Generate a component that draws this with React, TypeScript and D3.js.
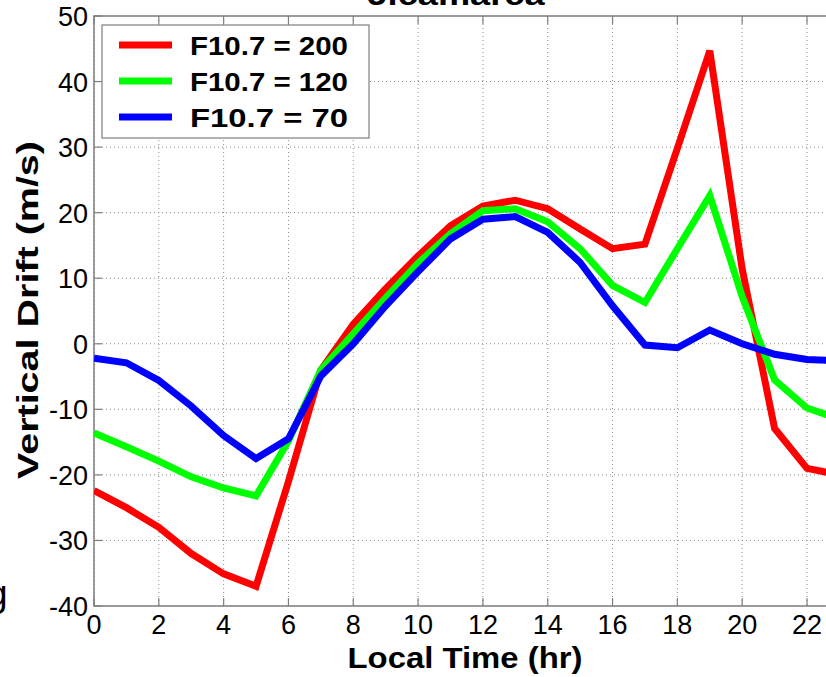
import React from "react";
import * as d3 from "d3";

const hours = [0,1,2,3,4,5,6,7,8,9,10,11,12,13,14,15,16,17,18,19,20,21,22,23];
const f200 = [-22.4,-25,-28,-32,-35.1,-37,-21,-4,3,8.4,13.4,18,21,21.9,20.6,17.5,14.5,15.2,29.8,44.7,11.4,-12.9,-19,-20];
const f120 = [-13.6,-15.7,-17.9,-20.3,-22,-23.2,-14.8,-4,1.5,7,12.3,16.8,20.3,20.6,18.6,14.5,8.9,6.3,14.5,22.6,7.2,-5.5,-9.8,-11.5];
const f70 = [-2.2,-2.9,-5.6,-9.5,-14,-17.5,-14.5,-4.9,0,5.8,11,16,19,19.4,17,12.4,5.8,-0.2,-0.6,2.1,0,-1.6,-2.4,-2.6];
const seriesNames = ["F10.7 = 200", "F10.7 = 120", "F10.7 = 70"];
const seriesColors = ["#ff0000", "#00ff00", "#0000ff"];
const xTicks = [0,2,4,6,8,10,12,14,16,18,20,22,24];
const yTicks = [-40,-30,-20,-10,0,10,20,30,40,50];

export default function App() {
  const W = 826, H = 677;
  const left = 94, top = 16, bottom = 606;
  const x = d3.scaleLinear().domain([0, 24]).range([left, left + 24 * (713 / 22)]);
  const y = d3.scaleLinear().domain([-40, 50]).range([bottom, top]);
  const right = x(24);
  const line = d3.line<number>().x((_, i) => x(hours[i])).y((v) => y(v));
  const all = [f200, f120, f70];
  const font = "'Liberation Sans', Arial, sans-serif";
  const axisColor = "#7f7f7f";
  return (
    <svg width={W} height={H} style={{ position: "absolute", left: 0, top: 0, background: "#fff" }} fontFamily={font}>
      <defs>
        <clipPath id="plot"><rect x={left} y={top} width={right - left} height={bottom - top} /></clipPath>
      </defs>
      <text x={456} y={5} textAnchor="middle" fontSize={30} fontWeight="bold" textLength={177} lengthAdjust="spacingAndGlyphs">Jicamarca</text>
      <text x={-13} y={606} fontSize={37}>g</text>
      {/* grid */}
      {xTicks.map((t) => (
        <line key={"gx" + t} x1={x(t)} x2={x(t)} y1={top} y2={bottom} stroke="#8a8a8a" strokeWidth={1} strokeDasharray="1,3" />
      ))}
      {yTicks.map((t) => (
        <line key={"gy" + t} x1={left} x2={right} y1={y(t)} y2={y(t)} stroke="#8a8a8a" strokeWidth={1} strokeDasharray="1,3" />
      ))}
      {/* axes box */}
      <rect x={left} y={top} width={right - left} height={bottom - top} fill="none" stroke={axisColor} strokeWidth={1.5} />
      {xTicks.map((t) => (
        <g key={"tx" + t}>
          <line x1={x(t)} x2={x(t)} y1={bottom} y2={bottom - 8} stroke={axisColor} strokeWidth={1.2} />
          <line x1={x(t)} x2={x(t)} y1={top} y2={top + 8} stroke={axisColor} strokeWidth={1.2} />
          {x(t) < W ? <text x={x(t)} y={bottom + 28} textAnchor="middle" fontSize={27}>{t}</text> : null}
        </g>
      ))}
      {yTicks.map((t) => (
        <g key={"ty" + t}>
          <line x1={left} x2={left + 8} y1={y(t)} y2={y(t)} stroke={axisColor} strokeWidth={1.2} />
          <text x={left - 6} y={y(t) + 10} textAnchor="end" fontSize={27}>{t}</text>
        </g>
      ))}
      {/* series */}
      <g clipPath="url(#plot)">
        {all.map((s, i) => (
          <path key={"s" + i} d={line(s) || ""} fill="none" stroke={seriesColors[i]} strokeWidth={7} strokeLinejoin="miter" />
        ))}
      </g>
      {/* legend */}
      <rect x={102} y={25} width={267} height={113} fill="#fff" stroke={axisColor} strokeWidth={1.2} />
      {seriesNames.map((n, i) => (
        <g key={"l" + i}>
          <line x1={119} x2={172} y1={45 + i * 36} y2={45 + i * 36} stroke={seriesColors[i]} strokeWidth={7} />
          <text x={190} y={45 + i * 36 + 9.5} fontSize={26} fontWeight="bold" textLength={158} lengthAdjust="spacingAndGlyphs">{n}</text>
        </g>
      ))}
      <text x={465} y={668} textAnchor="middle" fontSize={30} fontWeight="bold" textLength={235} lengthAdjust="spacingAndGlyphs">Local Time (hr)</text>
      <text transform={`translate(38,310) rotate(-90)`} textAnchor="middle" fontSize={30} fontWeight="bold" textLength={338} lengthAdjust="spacingAndGlyphs">Vertical Drift (m/s)</text>
    </svg>
  );
}
